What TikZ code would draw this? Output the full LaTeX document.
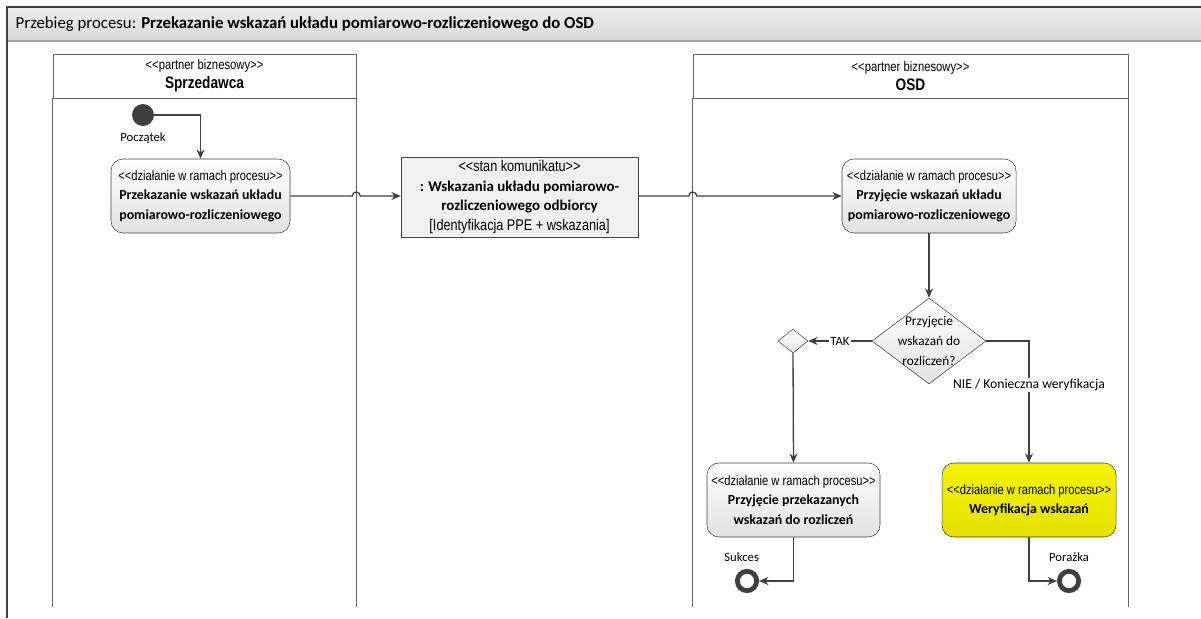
\documentclass[tikz,border=0pt]{standalone}
\usepackage{fontspec}
\setmainfont{Carlito}
\newfontfamily\narrowfont[FakeStretch=0.82]{Liberation Sans}
\usetikzlibrary{shapes.geometric, arrows.meta, positioning}
\definecolor{linegray}{RGB}{64,64,64}
\definecolor{lanegray}{RGB}{100,100,100}
\definecolor{boxbottom}{RGB}{226,226,226}
\definecolor{headtop}{RGB}{238,238,238}
\definecolor{headbottom}{RGB}{216,216,216}
\definecolor{yellowtop}{RGB}{244,244,0}
\definecolor{yellowbottom}{RGB}{228,224,0}
\newcommand{\stereo}[1]{{\narrowfont\fontsize{10.2}{14.6}\selectfont<\kern0pt<#1>\kern0pt>}}
\newcommand{\msgstereo}[1]{{\narrowfont\fontsize{11.6}{14.8}\selectfont<\kern0pt<#1>\kern0pt>}}
\newcommand{\lanestereo}[1]{{\narrowfont\fontsize{10.3}{14.2}\selectfont<\kern0pt<#1>\kern0pt>}}

\begin{document}
\begin{tikzpicture}[x=0.75pt, y=-0.75pt,
    every node/.style={font=\fontsize{10.4}{14.6}\selectfont},
    action/.style={draw=linegray, rounded corners=9pt, top color=white, bottom color=boxbottom,
                   minimum width=130.5pt, minimum height=55.5pt, align=center, inner sep=0pt},
    message/.style={draw=linegray, fill=gray!12, minimum width=177.75pt, minimum height=60pt,
                    align=center, inner sep=0pt, font=\fontsize{11.2}{14.8}\selectfont},
    decision/.style={diamond, draw=linegray, top color=white, bottom color=boxbottom,
                     minimum width=85.5pt, minimum height=64.5pt, inner sep=0pt},
    startnode/.style={circle, fill=linegray, minimum size=16.5pt, inner sep=0pt},
    endnode/.style={circle, draw=linegray, line width=3.6pt, fill=gray!5, minimum size=14.5pt, inner sep=0pt},
    lanehead/.style={draw=lanegray, fill=white, minimum height=33pt, align=center, inner sep=0pt},
    lane/.style={draw=lanegray, line width=0.8pt},
    flow/.style={draw=linegray, line width=1pt, -{Stealth[length=7pt, width=6pt]}},
    small/.style={font=\fontsize{9.5}{11}\selectfont},
]
\useasboundingbox (0,0) rectangle (1201,618);

%% Ramka procesu z paskiem tytulowym
\shade[top color=headtop, bottom color=headbottom] (7,7) rectangle (1201,41);
\draw[gray!70, line width=1pt] (7,41) -- (1201,41);
\draw[linegray, line width=1.2pt] (7,618) -- (7,7) -- (1201,7);
\node[anchor=west, font=\fontsize{12.6}{14}\selectfont] (title) at (11,24)
    {Przebieg procesu: \textbf{Przekazanie wskazań układu pomiarowo-rozliczeniowego do OSD}};

%% Tory (partnerzy biznesowi)
\node[lanehead, minimum width=227.25pt] (seller) at (204.5,76)
    {\lanestereo{partner biznesowy}\\{\narrowfont\fontsize{12.5}{14}\selectfont\bfseries Sprzedawca}};
\node[lanehead, minimum width=326.25pt] (osd) at (910.5,76)
    {\lanestereo{partner biznesowy}\\{\narrowfont\fontsize{12.5}{14}\selectfont\bfseries OSD}};
\draw[lane] (seller.south west) -- ++(0,509);
\draw[lane] (seller.south east) -- ++(0,509);
\draw[lane] (osd.south west) -- ++(0,509);
\draw[lane] (osd.south east) -- ++(0,509);

%% Wezly
\node[startnode, label={[small, yshift=-1pt]below:Początek}] (start) at (143,115) {};
\node[action, minimum width=134.25pt] (send) at (200.5,196)
    {\stereo{działanie w ramach procesu}\\\textbf{Przekazanie wskazań układu}\\\textbf{pomiarowo-rozliczeniowego}};
\node[message] (msg) at (519.5,197)
    {\msgstereo{stan komunikatu}\\\textbf{: Wskazania układu pomiarowo-}\\\textbf{rozliczeniowego odbiorcy}\\
     {\narrowfont\fontsize{11.6}{14.8}\selectfont[Identyfikacja PPE + wskazania]}};
\node[action] (receive) at (929,196)
    {\stereo{działanie w ramach procesu}\\\textbf{Przyjęcie wskazań układu}\\\textbf{pomiarowo-rozliczeniowego}};
\node[decision, label={[align=center, font=\fontsize{10}{15}\selectfont]center:Przyjęcie\\wskazań do\\rozliczeń?}] (check) at (929,341) {};
\node[decision, minimum width=22.5pt, minimum height=18pt] (merge) at (793,341) {};
\node[action, minimum width=129.75pt] (accept) at (793.5,500)
    {\stereo{działanie w ramach procesu}\\\textbf{Przyjęcie przekazanych}\\\textbf{wskazań do rozliczeń}};
\node[action, top color=yellowtop, bottom color=yellowbottom] (verify) at (1029,500)
    {\stereo{działanie w ramach procesu}\\\textbf{Weryfikacja wskazań}};
\node[endnode, label={[small, xshift=-4pt, yshift=2pt]above:Sukces}] (success) at (747,581) {};
\node[endnode, label={[small, yshift=2pt]above:Porażka}] (failure) at (1069,581) {};

%% Przeplywy
\draw[flow] (start.east) -| (send.north);
\draw[flow] (send.east) -- ([xshift=-3pt]send.east -| seller.east)
    arc[start angle=180, end angle=0, radius=3pt] -- (send.east -| msg.west);
\draw[flow] (receive.west -| msg.east) -- ([xshift=-3pt]receive.west -| osd.west)
    arc[start angle=180, end angle=0, radius=3pt] -- (receive.west);
\draw[flow] (receive) -- (check);
\draw[flow] (check.west) -- (merge.east) node[midway, fill=white, inner sep=1pt, small] {TAK};
\draw[flow] (check.east) -| (verify.north)
    node[pos=0.68, fill=white, inner sep=1pt, font=\fontsize{10.2}{12}\selectfont] {NIE / Konieczna weryfikacja};
\draw[flow] (merge.south) -- (accept.north);
\draw[flow] (accept.south) |- (success.east);
\draw[flow] (verify.south) |- (failure.west);

\end{tikzpicture}
\end{document}
